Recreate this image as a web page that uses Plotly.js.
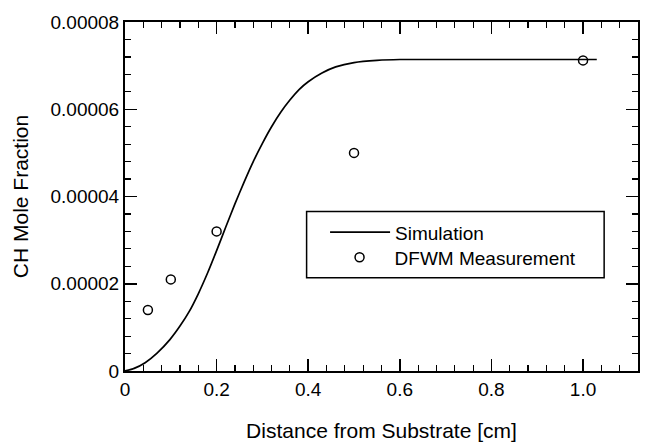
<!DOCTYPE html>
<html>
<head>
<meta charset="utf-8">
<script src="https://cdn.plot.ly/plotly-3.0.1.min.js"></script>
<style>html,body{margin:0;padding:0;background:#fff;}#chart{width:645px;height:442px;}</style>
</head>
<body>
<div id="chart"></div>
<script>
// Simulation curve (distance in cm, CH mole fraction)
const simX = [0, 0.02, 0.044, 0.07, 0.098, 0.12, 0.14, 0.16, 0.18, 0.2, 0.22, 0.24, 0.26, 0.28, 0.3, 0.32, 0.34, 0.36, 0.38, 0.4, 0.43, 0.46, 0.5, 0.55, 0.6, 0.7, 0.8, 0.9, 1.03];
const simY = [0, 0.0000006, 0.0000019, 0.0000041, 0.0000072, 0.0000103, 0.0000136, 0.0000177, 0.0000224, 0.0000276, 0.0000330, 0.0000383, 0.0000433, 0.0000480, 0.0000522, 0.0000560, 0.0000593, 0.0000621, 0.0000645, 0.0000663, 0.0000683, 0.0000697, 0.0000707, 0.0000712, 0.0000714, 0.0000714, 0.0000714, 0.0000714, 0.0000714];
// DFWM measurement points
const measX = [0.05, 0.1, 0.2, 0.5, 1.0];
const measY = [0.000014, 0.000021, 0.000032, 0.00005, 0.0000712];
// Axis ranges and tick steps
const xRange = [0, 1.12];
const yRange = [0, 0.00008];
const xMajor = 0.2, xMinor = 0.04;
const yMajor = 0.00002, yMinor = 0.000004;

const FONT = "Liberation Sans, Arial, Helvetica, sans-serif";

const traces = [
  {x: simX, y: simY, mode: "lines", name: "Simulation", legend: "legend",
   line: {color: "#000", width: 1.7, shape: "spline", smoothing: 0.5}},
  {x: measX, y: measY, mode: "markers", name: "DFWM Measurement", legend: "legend2",
   marker: {symbol: "circle-open", size: 9, color: "#000", line: {width: 1.5, color: "#000"}}},
  // carrier for the mirrored top/right tick axes (invisible)
  {x: measX, y: measY, xaxis: "x2", yaxis: "y2", mode: "markers", showlegend: false,
   hoverinfo: "skip", marker: {opacity: 0}}
];

const tickCommon = {
  showgrid: false, zeroline: false,
  ticks: "inside", ticklen: 12, tickwidth: 1.5, tickcolor: "#000",
  tickfont: {family: FONT, size: 19, color: "#000"},
  tickmode: "linear", tick0: 0
};

function minorTicks(d) {
  return {tickmode: "linear", tick0: 0, dtick: d, ticks: "inside", ticklen: 6, tickwidth: 1.2, tickcolor: "#000"};
}

const layout = {
  width: 645, height: 442,
  margin: {l: 125, r: 7, t: 22, b: 71},
  paper_bgcolor: "#fff", plot_bgcolor: "#fff",
  showlegend: true,
  font: {family: FONT, color: "#000"},
  xaxis: Object.assign({}, tickCommon, {
    range: xRange, dtick: xMajor, tickformat: ".1f", labelalias: {"0.0": "0"},
    showline: true, linecolor: "#000", linewidth: 2, mirror: true,
    minor: minorTicks(xMinor),
    title: {text: "Distance from Substrate [cm]", font: {family: FONT, size: 21, color: "#000"}, standoff: 25}
  }),
  yaxis: Object.assign({}, tickCommon, {
    range: yRange, dtick: yMajor, tickformat: ".5f", labelalias: {"0.00000": "0"},
    showline: true, linecolor: "#000", linewidth: 2, mirror: true,
    minor: minorTicks(yMinor),
    title: {text: "CH Mole Fraction", font: {family: FONT, size: 21, color: "#000"}, standoff: 16}
  }),
  xaxis2: Object.assign({}, tickCommon, {
    overlaying: "x", side: "top", anchor: "y", range: xRange, dtick: xMajor,
    showticklabels: false, showline: false, minor: minorTicks(xMinor)
  }),
  yaxis2: Object.assign({}, tickCommon, {
    overlaying: "y", side: "right", anchor: "x", range: yRange, dtick: yMajor,
    showticklabels: false, showline: false, minor: minorTicks(yMinor)
  }),
  legend: {
    x: 0.39, y: 0.452, xanchor: "left", yanchor: "top",
    bgcolor: "rgba(0,0,0,0)", borderwidth: 0,
    font: {family: FONT, size: 19, color: "#000"}, itemwidth: 60
  },
  legend2: {
    x: 0.389, y: 0.38, xanchor: "left", yanchor: "top",
    bgcolor: "rgba(0,0,0,0)", borderwidth: 0,
    font: {family: FONT, size: 19, color: "#000"}, itemwidth: 60
  },
  shapes: [
    {type: "rect", xref: "paper", yref: "paper", x0: 0.354, x1: 0.934, y0: 0.267, y1: 0.457,
     line: {color: "#000", width: 1.5}, fillcolor: "rgba(0,0,0,0)", layer: "above"}
  ]
};

Plotly.newPlot("chart", traces, layout, {displayModeBar: false, staticPlot: true});
</script>
</body>
</html>
